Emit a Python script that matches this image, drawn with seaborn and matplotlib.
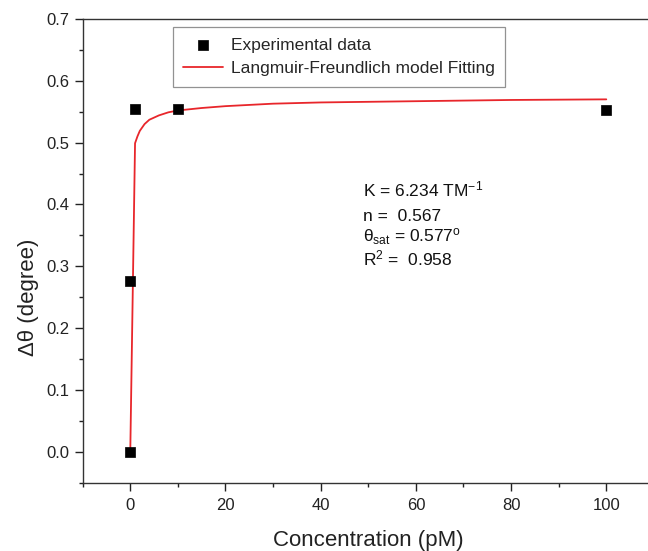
import matplotlib
matplotlib.use("Agg")
import matplotlib.pyplot as plt
import seaborn as sns
import pandas as pd

# Experimental data
conc_exp = [0, 0, 1, 10, 100]
dtheta_exp = [0.0, 0.276, 0.554, 0.554, 0.553]

# Fitted curve
conc_fit = [0, 1.0, 1.5, 2, 3, 4, 6, 8, 10, 15, 20, 30, 40, 50, 60, 70, 80, 90, 100]
dtheta_fit = [0.0, 0.499, 0.510, 0.519, 0.530, 0.537, 0.544, 0.549, 0.552, 0.556,
              0.559, 0.563, 0.565, 0.566, 0.567, 0.568, 0.569, 0.5695, 0.570]

x_ticks = [0, 20, 40, 60, 80, 100]
y_ticks = [0.0, 0.1, 0.2, 0.3, 0.4, 0.5, 0.6, 0.7]

sns.set_style("ticks")
plt.rcParams['font.family'] = ['Liberation Sans', 'DejaVu Sans']
plt.rcParams['mathtext.fontset'] = 'custom'
plt.rcParams['mathtext.rm'] = 'Liberation Sans'
plt.rcParams['mathtext.it'] = 'Liberation Sans:italic'

fig = plt.figure(figsize=(6.48, 5.51), dpi=100)
ax = fig.add_axes([0.1276, 0.1243, 0.8815, 0.8412])

df_exp = pd.DataFrame({"c": conc_exp, "d": dtheta_exp})
df_fit = pd.DataFrame({"c": conc_fit, "d": dtheta_fit})

sns.lineplot(data=df_fit, x="c", y="d", ax=ax, color="#e8262b", linewidth=1.3,
             label="Langmuir-Freundlich model Fitting", estimator=None, sort=False, zorder=2)
sns.scatterplot(data=df_exp, x="c", y="d", ax=ax, marker="s", s=60, color="black",
                edgecolor="black", linewidth=0.5, label="Experimental data", zorder=3)

ax.set_xlim(-10, 110)
ax.set_ylim(-0.05, 0.7)
ax.set_xticks(x_ticks)
ax.set_xticks([-10, 10, 30, 50, 70, 90, 110], minor=True)
ax.set_yticks(y_ticks)
ax.set_yticks([-0.05, 0.05, 0.15, 0.25, 0.35, 0.45, 0.55, 0.65], minor=True)
ax.set_yticklabels([f"{v:.1f}" for v in y_ticks])
ax.tick_params(axis='both', which='major', direction='out', length=5.5, width=1,
               labelsize=12, colors='#222222', labelcolor='#222222')
ax.tick_params(axis='x', which='major', pad=6)
ax.tick_params(axis='y', which='major', pad=4)
ax.tick_params(axis='both', which='minor', direction='out', length=3, width=1, colors='#222222')
for side in ['left', 'bottom', 'top', 'right']:
    ax.spines[side].set_visible(True)
    ax.spines[side].set_color('#333333')
    ax.spines[side].set_linewidth(1.0)

ax.set_xlabel("Concentration (pM)", fontsize=16, color='#222222', labelpad=12)
ax.set_ylabel("Δθ (degree)", fontsize=16, color='#222222')
ax.yaxis.set_label_coords(-0.0765, 0.40)

handles, labels = ax.get_legend_handles_labels()
order = [labels.index("Experimental data"), labels.index("Langmuir-Freundlich model Fitting")]
leg = ax.legend([handles[i] for i in order], [labels[i] for i in order],
                loc='upper left', bbox_to_anchor=(0.1576, 0.9827), borderaxespad=0,
                fontsize=12.5, frameon=True, fancybox=False, edgecolor='#777777',
                handlelength=2.3, handletextpad=0.45, labelspacing=0.5,
                borderpad=0.6, markerscale=1.0)
leg.get_frame().set_linewidth(0.9)

txt_kw = dict(transform=ax.transAxes, fontsize=12.5, color='#111111', va='baseline', ha='left')
ax.text(0.4907, 0.6166, r"K = 6.234 TM$^{\mathrm{-1}}$", **txt_kw)
ax.text(0.4907, 0.564, "n =  0.567", **txt_kw)
ax.text(0.4907, 0.5195, r"θ$_{\mathrm{sat}}$ = 0.577$^{\mathrm{o}}$", **txt_kw)
ax.text(0.4907, 0.469, r"R$^{\mathrm{2}}$ =  0.958", **txt_kw)

fig.savefig("out.png", dpi=100)
